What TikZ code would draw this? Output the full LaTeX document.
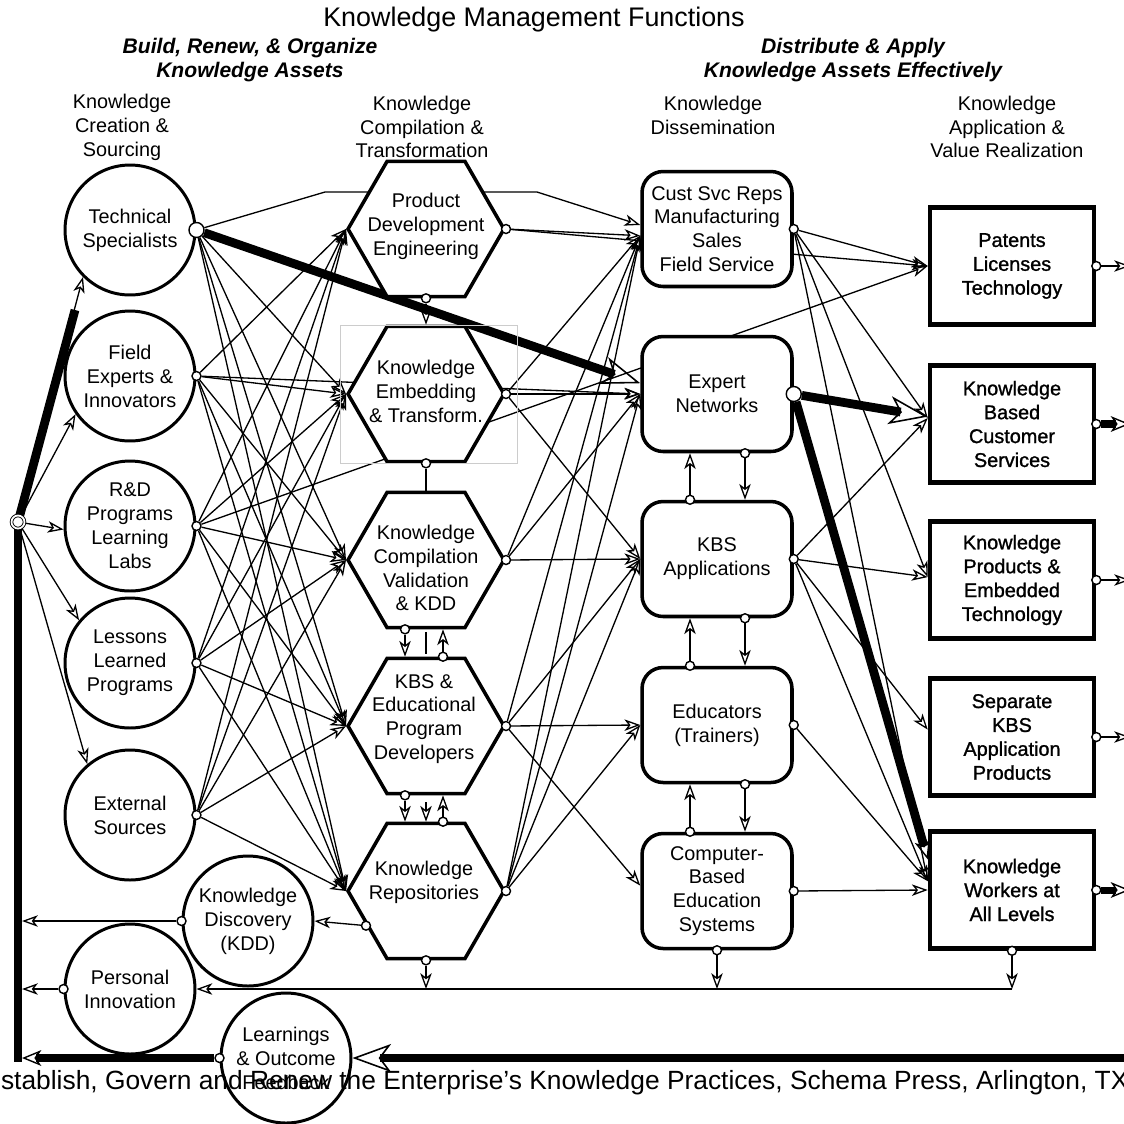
\documentclass[tikz,border=0pt]{standalone}
\usepackage{fontspec}
\setmainfont{Liberation Sans}
\newfontfamily\semibold[FakeBold=1.2]{Liberation Sans}
\usetikzlibrary{arrows.meta,shapes.geometric}
\pgfdeclarelayer{background}
\pgfsetlayers{background,main}
\newcommand{\bodysize}{\fontsize{11.3}{13.6}\selectfont}

\begin{document}
\begin{tikzpicture}[x=0.02cm,y=-0.02cm,
  every node/.style={font=\bodysize,align=center,inner sep=0pt},
  source/.style={circle,draw,line width=1.7pt,fill=white,minimum size=2.6cm},
  hexa/.style={regular polygon,regular polygon sides=6,draw,line width=2pt,fill=white,minimum size=3.12cm},
  channel/.style={draw,rounded corners=12pt,line width=2pt,fill=white,minimum width=3cm,minimum height=2.3cm},
  result/.style={draw,line width=2.6pt,fill=white,minimum width=3.28cm,minimum height=2.34cm,font=\semibold\bodysize},
  port/.style={circle,draw,fill=white,line width=0.8pt,minimum size=0.18cm},
  bigport/.style={port,minimum size=0.3cm},
  link/.style={line width=0.75pt,-{Stealth[open,length=9pt,width=6.5pt,inset=2.5pt]}},
  wire/.style={line width=0.75pt},
  heavy/.style={line width=5pt},
  bighead/.style={-{Stealth[open,length=22pt,width=16pt,inset=6pt,line width=0.9pt]}},
  midhead/.style={-{Stealth[open,length=11pt,width=9pt,inset=3pt,line width=0.8pt]}}
]
\useasboundingbox (0,0) rectangle (1124,1123);

\node[font=\fontsize{15.3}{18}\selectfont] (title) at (534,20) {Knowledge Management Functions};
\node[font=\fontsize{12}{13.6}\selectfont\bfseries\itshape] (build) at (250,60) {Build, Renew, \& Organize\\Knowledge Assets};
\node[font=\fontsize{12}{13.6}\selectfont\bfseries\itshape] (apply) at (853,60) {Distribute \& Apply\\Knowledge Assets Effectively};
\node (col-a) at (122,127) {Knowledge\\Creation \&\\Sourcing};
\node (col-b) at (422,127) {Knowledge\\Compilation \&\\Transformation};
\node (col-c) at (713,115) {Knowledge\\Dissemination};
\node (col-d) at (1007,127) {Knowledge\\Application \&\\Value Realization};

\node[source] (tech) at (130,230) {Technical\\Specialists};
\node[source] (fe) at (130,376) {Field\\Experts \&\\Innovators};
\node[source] (rd) at (130,526) {R\&D\\Programs\\Learning\\Labs};
\node[source] (ll) at (130,663) {Lessons\\Learned\\Programs};
\node[source] (ex) at (130,815) {External\\Sources};
\node[source] (kdd) at (248,921) {Knowledge\\Discovery\\(KDD)};
\node[source] (pin) at (130,989) {Personal\\Innovation};
\node[source] (lof) at (286,1058) {Learnings\\\& Outcome\\Feedback};

\node[hexa] (pde) at (426,229) {};
\node (pde-txt) at (426,226) {Product\\Development\\Engineering};
\node[hexa] (ket) at (426,394) {};
\node (ket-txt) at (426,391) {Knowledge\\Embedding\\\& Transform.};
\node[hexa] (kcv) at (426,560) {};
\node (kcv-txt) at (426,568) {Knowledge\\Compilation\\Validation\\\& KDD};
\node[hexa] (kbs) at (426,726) {};
\node (kbs-txt) at (424,719) {KBS \&\\Educational\\Program\\Developers};
\node[hexa] (kr) at (426,891) {};
\node (kr-txt) at (424,882) {Knowledge\\Repositories};
\draw[black!20,line width=0.4pt] (340,325) rectangle (517,463);

\node[channel] (cs) at (717,229) {Cust Svc Reps\\Manufacturing\\Sales\\Field Service};
\node[channel] (en) at (717,394) {Expert\\Networks};
\node[channel] (kbsa) at (717,559) {KBS\\Applications};
\node[channel] (edu) at (717,725) {Educators\\(Trainers)};
\node[channel] (cbes) at (717,891) {Computer-\\Based\\Education\\Systems};

\node[result] (pat) at (1012,266) {Patents\\Licenses\\Technology};
\node[result] (kbcs) at (1012,424) {Knowledge\\Based\\Customer\\Services};
\node[result] (kpet) at (1012,580) {Knowledge\\Products \&\\Embedded\\Technology};
\node[result] (skap) at (1012,737) {Separate\\KBS\\Application\\Products};
\node[result] (kw) at (1012,890) {Knowledge\\Workers at\\All Levels};

\node[circle,draw,double,double distance=1pt,line width=0.5pt,fill=white,minimum size=0.26cm] (hub) at (18,522) {};

\node[bigport] (tech-o) at (tech.east) {};
\foreach \n in {fe,rd,ll,ex,pde,ket,kcv,kbs,kr,cs,kbsa,edu,cbes,pat,kbcs,kpet,skap,kw}
  \node[port] (\n-o) at (\n.east) {};
\node[bigport] (en-o) at (en.east) {};
\node[port] (pde-b) at (pde.south) {};
\node[port] (ket-b) at (ket.south) {};
\node[port] (kcv-b) at ([xshift=-0.42cm]kcv.south) {};
\node[port] (kbs-t) at ([xshift=0.34cm]kbs.north) {};
\node[port] (kbs-b) at ([xshift=-0.42cm]kbs.south) {};
\node[port] (kr-t) at ([xshift=0.34cm]kr.north) {};
\node[port] (kr-l) at (kr.210) {};
\node[port] (kr-b) at (kr.south) {};
\node[port] (en-b) at ([xshift=0.56cm]en.south) {};
\node[port] (kbsa-t) at ([xshift=-0.54cm]kbsa.north) {};
\node[port] (kbsa-b) at ([xshift=0.56cm]kbsa.south) {};
\node[port] (edu-t) at ([xshift=-0.54cm]edu.north) {};
\node[port] (edu-b) at ([xshift=0.56cm]edu.south) {};
\node[port] (cbes-t) at ([xshift=-0.54cm]cbes.north) {};
\node[port] (cbes-b) at (cbes.south) {};
\node[port] (kw-b) at (kw.south) {};
\node[port] (kdd-o) at (kdd.west) {};
\node[port] (pin-o) at (pin.west) {};
\node[port] (lof-o) at (lof.west) {};

\coordinate (rail) at (22,0);
\coordinate (rail-top) at (75,310);
\coordinate (edge) at (1130,0);
\coordinate (bend-a) at (325,192);
\coordinate (bend-b) at (537,192);

\begin{pgfonlayer}{background}
  \draw[heavy,line cap=rect] (hub) -- (hub |- lof.west);
  \draw[heavy] (hub) -- (rail-top);
  \draw[link] (hub) -- (tech.225);
  \draw[link] (hub) -- (fe.215);
  \draw[link] (hub) -- (rd.183);
  \draw[link] (hub) -- (ll.140);
  \draw[link] (hub) -- (ex.130);

  \foreach \s in {fe,rd,ll,ex}
    \foreach \t in {pde,ket,kcv,kbs,kr}
      \draw[link] (\s-o) -- (\t.west);
  \foreach \t in {ket,kcv,kbs,kr}
    \draw[link] (tech-o) -- (\t.west);
  \draw[link] (tech-o) -- (bend-a) -- (bend-b) -- (cs.177);
  \draw[link] (fe-o) -- (en.west);
  \draw[link] (rd-o) -- (pat.west);
  \draw[heavy,bighead] (tech-o) -- (en.172);

  \draw[link] (pde-b) -- (ket.north);
  \draw[wire] (ket-b) -- (kcv.north);
  \draw[link] (kcv-b) -- (kcv-b |- kbs.north);
  \draw[link] (kbs-t) -- (kbs-t |- kcv.south);
  \draw[wire] ([yshift=-0.05cm]kcv.south) -- ([yshift=-0.49cm]kcv.south);
  \draw[link] (kbs-b) -- (kbs-b |- kr.north);
  \draw[link] ([yshift=-0.14cm]kbs.south) -- (kr.north);
  \draw[link] (kr-t) -- (kr-t |- kbs.south);

  \draw[link] (pde-o) -- (cs.185);
  \draw[link] (pde-o) -- (pat.west);
  \foreach \t in {cs.185,en.west,kbsa.west}
    \draw[link] (ket-o) -- (\t);
  \foreach \t in {cs.185,en.west,kbsa.west}
    \draw[link] (kcv-o) -- (\t);
  \foreach \t in {cs.185,kbsa.west,edu.west,cbes.176}
    \draw[link] (kbs-o) -- (\t);
  \foreach \t in {cs.185,en.west,kbsa.west,edu.west}
    \draw[link] (kr-o) -- (\t);

  \foreach \a/\b in {en/kbsa,kbsa/edu,edu/cbes} {
    \draw[link] (\a-b) -- (\a-b |- \b.north);
    \draw[link] (\b-t) -- (\b-t |- \a.south);
  }

  \foreach \t in {pat.west,kbcs.176,kpet.178,kw.174}
    \draw[link] (cs-o) -- (\t);
  \foreach \t in {kbcs.176,kpet.178,skap.175,kw.174}
    \draw[link] (kbsa-o) -- (\t);
  \draw[link] (edu-o) -- (kw.174);
  \draw[link] (cbes-o) -- (kw.west);
  \draw[heavy,bighead] (en-o) -- (kbcs.175);
  \draw[heavy,midhead] (en-o) -- (kw.160);

  \foreach \n in {pat,kpet,skap}
    \draw[link] (\n-o) -- (edge |- \n-o);
  \foreach \n in {kbcs,kw}
    \draw[line width=4pt,midhead] (\n-o) -- (edge |- \n-o);

  \draw[link] (kr-l) -- (kdd.east);
  \draw[link] (kdd-o) -- (rail |- kdd-o);
  \draw[link] (pin-o) -- (rail |- pin-o);
  \draw[link] (kr-b) -- (kr-b |- pin.east);
  \draw[link] (cbes-b) -- (cbes-b |- pin.east);
  \draw[link] (kw-b) -- (kw-b |- pin.east);
  \draw[link] (kw-b |- pin.east) -- (pin.east);

  \draw[heavy,bighead] (edge |- lof.east) -- (lof.east);
  \draw[heavy,midhead] (lof-o) -- (rail |- lof-o);
\end{pgfonlayer}

\node[font=\fontsize{15}{18}\selectfont] (source-note) at (556,1083) {Establish, Govern and Renew the Enterprise’s Knowledge Practices, Schema Press, Arlington, TX};
\end{tikzpicture}
\end{document}
